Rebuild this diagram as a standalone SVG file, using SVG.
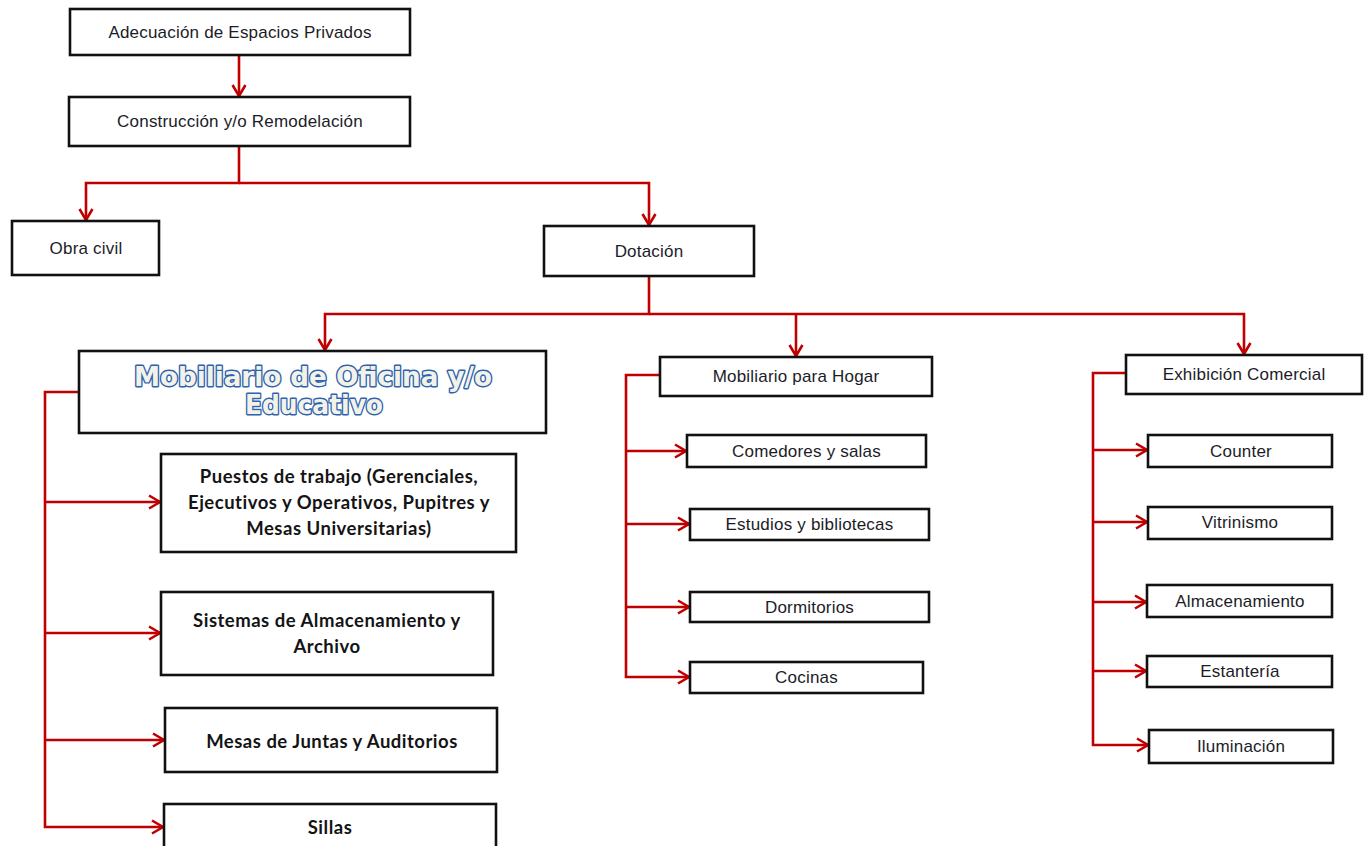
<svg xmlns="http://www.w3.org/2000/svg" width="1369" height="846" viewBox="0 0 1369 846">
<style>
.box{fill:#ffffff;stroke:#111111;stroke-width:2.6}
.t{font-family:"Liberation Sans",Arial,sans-serif;font-size:17px;letter-spacing:0.2px;fill:#1c1c28;text-anchor:middle}
.b{font-family:Lato,"Open Sans",sans-serif;font-weight:bold;font-size:18.5px;letter-spacing:0.5px;fill:#141414;text-anchor:middle}
.w{font-family:"DejaVu Sans","Liberation Sans",sans-serif;font-weight:bold;font-size:26px;fill:#f2f2e8;stroke:#2f62ad;stroke-width:2.8;paint-order:stroke;text-anchor:middle;stroke-linejoin:round}
.c{fill:none;stroke:#c00000;stroke-width:2.6}
</style>
<defs>
<marker id="ah" markerUnits="userSpaceOnUse" markerWidth="16" markerHeight="16" viewBox="0 0 16 16" refX="13" refY="8" orient="auto">
<path d="M2,1.5 L13,8 L2,14.5" fill="none" stroke="#c00000" stroke-width="2.6"/>
</marker>
</defs>
<rect width="1369" height="846" fill="#ffffff"/>
<g id="connectors">
<path class="c" d="M239,55 V96" marker-end="url(#ah)"/>
<path class="c" d="M239,146 V183 H86 V220" marker-end="url(#ah)"/>
<path class="c" d="M239,183 H649 V225" marker-end="url(#ah)"/>
<path class="c" d="M649,277 V314 H325 V350" marker-end="url(#ah)"/>
<path class="c" d="M649,314 H1244 V354" marker-end="url(#ah)"/>
<path class="c" d="M796,314 V356" marker-end="url(#ah)"/>
<path class="c" d="M79,392 H45 V827 H163" marker-end="url(#ah)"/>
<path class="c" d="M45,502 H160" marker-end="url(#ah)"/>
<path class="c" d="M45,633 H160" marker-end="url(#ah)"/>
<path class="c" d="M45,740 H164" marker-end="url(#ah)"/>
<path class="c" d="M660,375 H626 V677 H689" marker-end="url(#ah)"/>
<path class="c" d="M626,451 H686" marker-end="url(#ah)"/>
<path class="c" d="M626,524 H689" marker-end="url(#ah)"/>
<path class="c" d="M626,607 H689" marker-end="url(#ah)"/>
<path class="c" d="M1126,373 H1093 V745 H1148" marker-end="url(#ah)"/>
<path class="c" d="M1093,450 H1147" marker-end="url(#ah)"/>
<path class="c" d="M1093,522 H1147" marker-end="url(#ah)"/>
<path class="c" d="M1093,602 H1146" marker-end="url(#ah)"/>
<path class="c" d="M1093,671 H1146" marker-end="url(#ah)"/>
</g>
<g id="adecuacion"><rect class="box" x="70" y="9" width="340" height="46"/><text class="t" x="240" y="38">Adecuación de Espacios Privados</text></g>
<g id="construccion"><rect class="box" x="69" y="97" width="341" height="49"/><text class="t" x="240" y="127">Construcción y/o Remodelación</text></g>
<g id="obra-civil"><rect class="box" x="12" y="221" width="147" height="54"/><text class="t" x="86" y="254">Obra civil</text></g>
<g id="dotacion"><rect class="box" x="544" y="226" width="210" height="50"/><text class="t" x="649" y="257">Dotación</text></g>
<g id="oficina"><rect class="box" x="79" y="351" width="467" height="82"/>
<text class="w" x="313" y="386" textLength="358" lengthAdjust="spacingAndGlyphs">Mobiliario de Oficina y/o</text>
<text class="w" x="314" y="414" textLength="138" lengthAdjust="spacingAndGlyphs">Educativo</text></g>
<g id="puestos"><rect class="box" x="161" y="454" width="355" height="98"/>
<text class="b" x="339" y="483">Puestos de trabajo (Gerenciales,</text>
<text class="b" x="339" y="509">Ejecutivos y Operativos, Pupitres y</text>
<text class="b" x="339" y="535">Mesas Universitarias)</text></g>
<g id="sistemas"><rect class="box" x="161" y="592" width="332" height="83"/>
<text class="b" x="327" y="627">Sistemas de Almacenamiento y</text>
<text class="b" x="327" y="653">Archivo</text></g>
<g id="mesas"><rect class="box" x="165" y="708" width="332" height="64"/><text class="b" x="332" y="748">Mesas de Juntas y Auditorios</text></g>
<g id="sillas"><rect class="box" x="164" y="804" width="332" height="70"/><text class="b" x="330" y="834">Sillas</text></g>
<g id="hogar"><rect class="box" x="660" y="357" width="272" height="39"/><text class="t" x="796" y="382">Mobiliario para Hogar</text></g>
<g id="comedores"><rect class="box" x="687" y="435" width="239" height="32"/><text class="t" x="806.5" y="457">Comedores y salas</text></g>
<g id="estudios"><rect class="box" x="690" y="509" width="239" height="31"/><text class="t" x="809.5" y="530">Estudios y bibliotecas</text></g>
<g id="dormitorios"><rect class="box" x="690" y="592" width="239" height="30"/><text class="t" x="809.5" y="613">Dormitorios</text></g>
<g id="cocinas"><rect class="box" x="690" y="662" width="233" height="31"/><text class="t" x="806.5" y="683">Cocinas</text></g>
<g id="exhibicion"><rect class="box" x="1126" y="355" width="236" height="39"/><text class="t" x="1244" y="380">Exhibición Comercial</text></g>
<g id="counter"><rect class="box" x="1148" y="435" width="184" height="32"/><text class="t" x="1241" y="457">Counter</text></g>
<g id="vitrinismo"><rect class="box" x="1148" y="507" width="184" height="32"/><text class="t" x="1240" y="528">Vitrinismo</text></g>
<g id="almacenamiento"><rect class="box" x="1147" y="585" width="185" height="32"/><text class="t" x="1240" y="607">Almacenamiento</text></g>
<g id="estanteria"><rect class="box" x="1147" y="656" width="185" height="31"/><text class="t" x="1240" y="677">Estantería</text></g>
<g id="iluminacion"><rect class="box" x="1149" y="730" width="184" height="33"/><text class="t" x="1241" y="752">Iluminación</text></g>
</svg>
